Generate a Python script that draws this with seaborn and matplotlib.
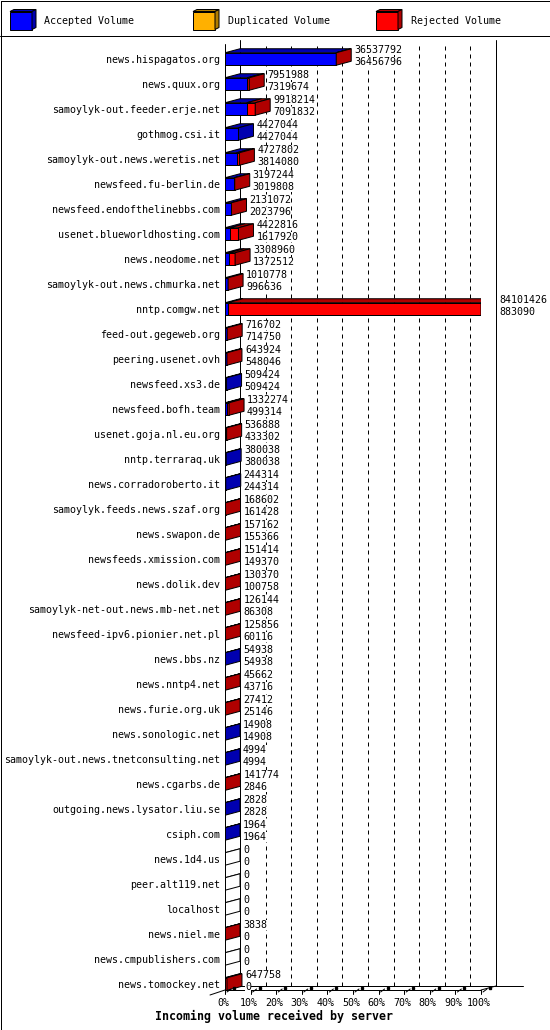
import numpy as np
import pandas as pd
import matplotlib
matplotlib.use('Agg')
import matplotlib.pyplot as plt
import seaborn as sns
from matplotlib.patches import Polygon

# datos
servers = [
    'news.hispagatos.org', 'news.quux.org', 'samoylyk-out.feeder.erje.net',
    'gothmog.csi.it', 'samoylyk-out.news.weretis.net', 'newsfeed.fu-berlin.de',
    'newsfeed.endofthelinebbs.com', 'usenet.blueworldhosting.com', 'news.neodome.net',
    'samoylyk-out.news.chmurka.net', 'nntp.comgw.net', 'feed-out.gegeweb.org',
    'peering.usenet.ovh', 'newsfeed.xs3.de', 'newsfeed.bofh.team',
    'usenet.goja.nl.eu.org', 'nntp.terraraq.uk', 'news.corradoroberto.it',
    'samoylyk.feeds.news.szaf.org', 'news.swapon.de', 'newsfeeds.xmission.com',
    'news.dolik.dev', 'samoylyk-net-out.news.mb-net.net', 'newsfeed-ipv6.pionier.net.pl',
    'news.bbs.nz', 'news.nntp4.net', 'news.furie.org.uk', 'news.sonologic.net',
    'samoylyk-out.news.tnetconsulting.net', 'news.cgarbs.de',
    'outgoing.news.lysator.liu.se', 'csiph.com', 'news.1d4.us', 'peer.alt119.net',
    'localhost', 'news.niel.me', 'news.cmpublishers.com', 'news.tomockey.net',
]
total_volume = [
    36537792, 7951988, 9918214, 4427044, 4727802, 3197244, 2131072, 4422816,
    3308960, 1010778, 84101426, 716702, 643924, 509424, 1332274, 536888, 380038,
    244314, 168602, 157162, 151414, 130370, 126144, 125856, 54938, 45662, 27412,
    14908, 4994, 141774, 2828, 1964, 0, 0, 0, 3838, 0, 647758,
]
accepted_volume = [
    36456796, 7319674, 7091832, 4427044, 3814080, 3019808, 2023796, 1617920,
    1372512, 996636, 883090, 714750, 548046, 509424, 499314, 433302, 380038,
    244314, 161428, 155366, 149370, 100758, 86308, 60116, 54938, 43716, 25146,
    14908, 4994, 2846, 2828, 1964, 0, 0, 0, 0, 0, 0,
]
legend_labels = ['Accepted Volume', 'Duplicated Volume', 'Rejected Volume']
x_tick_labels = ['0%', '10%', '20%', '30%', '40%', '50%', '60%', '70%', '80%', '90%', '100%']
title = 'Incoming volume received by server'

df = pd.DataFrame({'server': servers, 'total': total_volume, 'accepted': accepted_volume})
df['rejected'] = df['total'] - df['accepted']
max_total = df['total'].max()

# colores estilo GD
azul, azul_osc = '#0000FF', '#0000B0'
naranja, naranja_osc = '#FFB000', '#B07C00'
rojo, rojo_osc = '#FF0000', '#B00000'
LW = 0.72

sns.set_theme(style='white')
plt.rcParams['font.family'] = ['DejaVu Sans Mono', 'DejaVu Sans']
FS = 7.2

W, H = 550, 1030
fig = plt.figure(figsize=(5.5, 10.3), dpi=100)
fig.patch.set_facecolor('white')

# capa de fondo en pixeles (marco y leyenda)
bg = fig.add_axes([0, 0, 1, 1], zorder=0)
bg.set_xlim(0, W)
bg.set_ylim(H, 0)
bg.axis('off')
bg.plot([0.5, W - 0.5, W - 0.5, 0.5, 0.5], [0.5, 0.5, H - 0.5, H - 0.5, 0.5], color='black', lw=LW)
bg.plot([0, W], [36, 36], color='black', lw=LW)


def cubo(axx, x, y, w, h, cara, oscuro, dx, dy, z=3):
    axx.add_patch(Polygon([(x, y), (x + w, y), (x + w, y + h), (x, y + h)], closed=True,
                          facecolor=cara, edgecolor='black', lw=LW, zorder=z))
    axx.add_patch(Polygon([(x, y), (x + dx, y + dy), (x + w + dx, y + dy), (x + w, y)], closed=True,
                          facecolor=oscuro, edgecolor='black', lw=LW, zorder=z))
    axx.add_patch(Polygon([(x + w, y), (x + w + dx, y + dy), (x + w + dx, y + h + dy), (x + w, y + h)],
                          closed=True, facecolor=oscuro, edgecolor='black', lw=LW, zorder=z))


for lx, tx, lab, c, co in zip([10, 193, 376], [44, 228, 411], legend_labels,
                              [azul, naranja, rojo], [azul_osc, naranja_osc, rojo_osc]):
    cubo(bg, lx, 11.5, 22, 18, c, co, 4, -2)
    bg.text(tx, 24, lab, fontsize=FS, va='baseline', ha='left', color='black')

bg.text(274, 1020, title, fontsize=8.4, fontweight='bold', ha='center', va='baseline', color='black')

# eje principal: 0% en x=225 px, 100% en x=481 px, filas cada 25 px
ax = fig.add_axes([225 / W, 1 - 990 / H, 256 / W, 950 / H], zorder=1)
ax.patch.set_visible(False)

sns.barplot(data=df, x='total', y='server', orient='h', color=rojo, saturation=1,
            width=0.5, edgecolor='black', linewidth=LW, errorbar=None, ax=ax)
barras_total = list(ax.patches)
sns.barplot(data=df, x='accepted', y='server', orient='h', color=azul, saturation=1,
            width=0.5, edgecolor='black', linewidth=LW, errorbar=None, ax=ax)
barras_acc = list(ax.patches)[len(barras_total):]

PX = max_total / 256.0
DX = 15 * PX
DY = -4 / 25.0


def fila(py):
    return (py - 59) / 25.0


ax.set_xlim(0, max_total)
ax.set_ylim(fila(990), fila(40))
for s in ax.spines.values():
    s.set_visible(False)
ax.set_xlabel('')
ax.set_ylabel('')
ax.set_xticks([])
ax.tick_params(axis='y', length=0, pad=3.5, labelsize=FS, labelcolor='black')

caja = dict(facecolor='white', edgecolor='none', pad=0)

# caras superiores y laterales 3D
for bt, ba, tot, acc, rej in zip(barras_total, barras_acc, df['total'], df['accepted'], df['rejected']):
    top = bt.get_y()
    bot = bt.get_y() + bt.get_height()
    a_end = ba.get_width()
    t_end = bt.get_width()
    ax.add_patch(Polygon([(0, top), (a_end, top), (a_end + DX, top + DY), (DX, top + DY)], closed=True,
                         facecolor=azul_osc if acc > 0 else 'white', edgecolor='black', lw=LW, zorder=3))
    if rej > 0:
        ax.add_patch(Polygon([(a_end, top), (t_end, top), (t_end + DX, top + DY), (a_end + DX, top + DY)],
                             closed=True, facecolor=rojo_osc, edgecolor='black', lw=LW, zorder=3))
    lado = rojo_osc if rej > 0 else (azul_osc if acc > 0 else 'white')
    ax.add_patch(Polygon([(t_end, top), (t_end + DX, top + DY), (t_end + DX, bot + DY), (t_end, bot)],
                         closed=True, facecolor=lado, edgecolor='black', lw=LW, zorder=3))
    yc = (top + bot) / 2
    ax.text(t_end + DX + 3 * PX, yc - 6 / 25.0, f'{tot}', fontsize=FS, va='baseline', ha='left',
            color='black', zorder=5, bbox=caja)
    ax.text(t_end + DX + 3 * PX, yc + 6 / 25.0, f'{acc}', fontsize=FS, va='baseline', ha='left',
            color='black', zorder=5, bbox=caja)

# rejilla en el plano trasero
ticks = np.linspace(0, max_total, len(x_tick_labels))
for k, t in enumerate(ticks):
    if k in (0, len(ticks) - 1):
        ax.plot([t + DX, t + DX], [fila(40), fila(986)], color='black', lw=LW, clip_on=False, zorder=0.5)
    else:
        ax.plot([t + DX, t + DX], [fila(46), fila(986)], color='black', lw=LW, ls=(0, (4, 4)),
                clip_on=False, zorder=0.5)

# suelo y eje vertical frontal
ax.plot([0, 0], [fila(44), fila(990)], color='black', lw=LW, clip_on=False, zorder=4)
ax.plot([0, max_total], [fila(990), fila(990)], color='black', lw=LW, clip_on=False, zorder=4)
ax.plot([max_total, max_total + DX], [fila(990), fila(986)], color='black', lw=LW, clip_on=False, zorder=4)
ax.plot([DX, max_total + DX + 27 * PX], [fila(986), fila(986)], color='black', lw=LW, clip_on=False, zorder=4)
ax.plot([-DX, 0], [fila(995), fila(990)], color='black', lw=LW, clip_on=False, zorder=4)

for t, lab in zip(ticks, x_tick_labels):
    ax.plot([t, t], [fila(990), fila(994)], color='black', lw=LW, clip_on=False, zorder=4)
    ax.plot([t + 2 * PX, t + 6 * PX], [fila(992), fila(989)], color='black', lw=LW, clip_on=False, zorder=4)
    ax.plot([t + 9 * PX], [fila(987.5)], marker='s', ms=2, color='black', clip_on=False, zorder=4)
    ax.text(t - 2 * PX, fila(1006), lab, fontsize=FS, ha='center', va='baseline', color='black')

plt.savefig('out.png', dpi=100, facecolor='white')
